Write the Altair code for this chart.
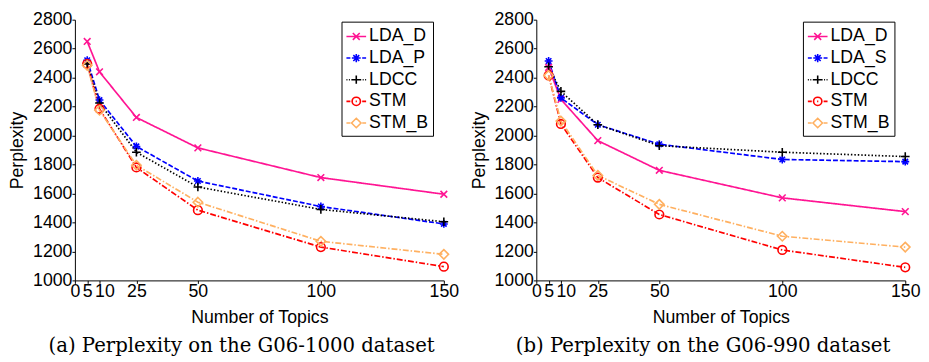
import altair as alt
import pandas as pd

topics = [5, 10, 25, 50, 100, 150]
x_ticks = [0, 5, 10, 25, 50, 100, 150]
y_ticks = [1000, 1200, 1400, 1600, 1800, 2000, 2200, 2400, 2600, 2800]

names_a = ["LDA_D", "LDA_P", "LDCC", "STM", "STM_B"]
a_lda_d = [2650, 2440, 2125, 1915, 1710, 1595]
a_lda_p = [2520, 2245, 1925, 1686, 1510, 1390]
a_ldcc = [2495, 2225, 1885, 1645, 1490, 1405]
a_stm = [2495, 2185, 1780, 1485, 1230, 1095]
a_stm_b = [2485, 2175, 1795, 1540, 1270, 1180]

names_b = ["LDA_D", "LDA_S", "LDCC", "STM", "STM_B"]
b_lda_d = [2470, 2250, 1965, 1760, 1570, 1475]
b_lda_s = [2515, 2260, 2075, 1940, 1835, 1820]
b_ldcc = [2475, 2305, 2075, 1930, 1885, 1855]
b_stm = [2415, 2080, 1710, 1455, 1210, 1090]
b_stm_b = [2415, 2100, 1725, 1525, 1305, 1230]

caption_a = "(a) Perplexity on the G06-1000 dataset"
caption_b = "(b) Perplexity on the G06-990 dataset"

colors = ["#FF1493", "#0000FF", "#000000", "#FF0000", "#FFB060"]
dashes = [[1, 0], [5, 2], [1.5, 2], [6, 2, 1.5, 2], [6, 2, 1.5, 2]]

# marker shapes for the plotted points (unit = 4px at size 64)
shape_x = "M-0.85,-0.85L0.85,0.85M-0.85,0.85L0.85,-0.85"
shape_ast = "M-1,0H1M0,-1V1M-0.7,-0.7L0.7,0.7M-0.7,0.7L0.7,-0.7"
shape_plus = "M-1.1,0H1.1M0,-1.1V1.1"
shape_circ = "M1.1,0A1.1,1.1,0,1,1,-1.1,0A1.1,1.1,0,1,1,1.1,0Z"
shape_diam = "M0,-1.2L1.2,0L0,1.2L-1.2,0Z"
shapes = [shape_x, shape_ast, shape_plus, shape_circ, shape_diam]

# legend symbols: short line with marker (unit = 10px)
leg_x = "M-1,0H1M-0.35,-0.35L0.35,0.35M-0.35,0.35L0.35,-0.35"
leg_ast = ("M-1,0H-0.6M-0.45,0H0.45M0.6,0H1"
           "M-0.42,0H0.42M0,-0.42V0.42M-0.3,-0.3L0.3,0.3M-0.3,0.3L0.3,-0.3")
leg_plus = ("M-1,0H-0.9M-0.75,0H-0.65M-0.5,0H0.5M0.65,0H0.75M0.9,0H1"
            "M0,-0.42V0.42")
leg_circ = ("M-1,0H-0.6M-0.5,0H-0.45M0.45,0H0.5M0.6,0H1"
            "M0.42,0A0.42,0.42,0,1,1,-0.42,0A0.42,0.42,0,1,1,0.42,0Z"
            "M-0.06,0H0.06")
leg_diam = ("M-1,0H-0.6M-0.5,0H-0.45M0.45,0H0.5M0.6,0H1"
            "M0,-0.48L0.48,0L0,0.48L-0.48,0Z")
leg_shapes = [leg_x, leg_ast, leg_plus, leg_circ, leg_diam]

FONT = "Liberation Sans"
FS = 18


def make_df(names, series):
    rows = []
    for n, vals in zip(names, series):
        for t, v in zip(topics, vals):
            rows.append({"series": n, "topics": t, "perp": v})
    return pd.DataFrame(rows)


def panel(names, series, caption):
    df = make_df(names, series)
    base = alt.Chart(df)
    x = alt.X("topics:Q",
              scale=alt.Scale(domain=[0, 150], nice=False, zero=False),
              axis=alt.Axis(values=x_ticks, title="Number of Topics",
                            labelOverlap=False, labelFlush=False,
                            labelOffset={"condition": {"test": "datum.value == 10", "value": 5}, "value": 0},
                            tickSize=3, labelPadding=-1, titlePadding=9,
                            grid=False))
    y = alt.Y("perp:Q",
              scale=alt.Scale(domain=[1000, 2800], nice=False, zero=False),
              axis=alt.Axis(values=y_ticks, title="Perplexity", format="d",
                            labelOverlap=False, labelFlush=False,
                            tickSize=3, labelPadding=0, titlePadding=6,
                            grid=False))
    col = alt.Scale(domain=names, range=colors)
    lines = base.mark_line(strokeWidth=1.7).encode(
        x=x, y=y,
        color=alt.Color("series:N", scale=col, legend=None),
        strokeDash=alt.StrokeDash("series:N",
                                  scale=alt.Scale(domain=names, range=dashes),
                                  legend=None),
    )
    points = base.mark_point(filled=False, size=64, strokeWidth=1.6,
                             opacity=1).encode(
        x=x, y=y,
        color=alt.Color("series:N", scale=col, legend=None),
        shape=alt.Shape("series:N",
                        scale=alt.Scale(domain=names, range=shapes),
                        legend=None),
    )
    leg = alt.Legend(title=None, orient="none", legendX=271, legendY=2,
                     labelFont=FONT, labelFontSize=FS, labelColor="black",
                     symbolSize=400, symbolStrokeWidth=1.6,
                     symbolOpacity=1, strokeColor="black",
                     fillColor="white", padding=4, rowPadding=2,
                     labelOffset=2)
    legend_layer = base.mark_point(filled=False, opacity=0,
                                   strokeWidth=1.5).encode(
        x=x, y=y,
        color=alt.Color("series:N", scale=col, legend=leg),
        shape=alt.Shape("series:N",
                        scale=alt.Scale(domain=names, range=leg_shapes),
                        legend=leg),
    )
    return alt.layer(lines, points, legend_layer).resolve_scale(
        color="independent", shape="independent", strokeDash="independent"
    ).properties(
        width=375, height=265,
        title=alt.TitleParams(caption, orient="bottom", anchor="middle",
                              frame="bounds", font="DejaVu Serif",
                              fontSize=20, fontWeight="normal",
                              color="black", offset=10, dx=8),
    )


left = panel(names_a, [a_lda_d, a_lda_p, a_ldcc, a_stm, a_stm_b], caption_a)
right = panel(names_b, [b_lda_d, b_lda_s, b_ldcc, b_stm, b_stm_b], caption_b)

chart = alt.hconcat(left, right, spacing=10).properties(
    padding=0
).configure_view(stroke=None).configure_axis(
    labelFont=FONT, labelFontSize=FS, labelColor="black",
    titleFont=FONT, titleFontSize=FS, titleFontWeight="normal",
    titleColor="black", domainColor="black", tickColor="black",
    domainWidth=1, tickWidth=1,
)

chart.save("out.html", embed_options={"renderer": "svg", "actions": False})
